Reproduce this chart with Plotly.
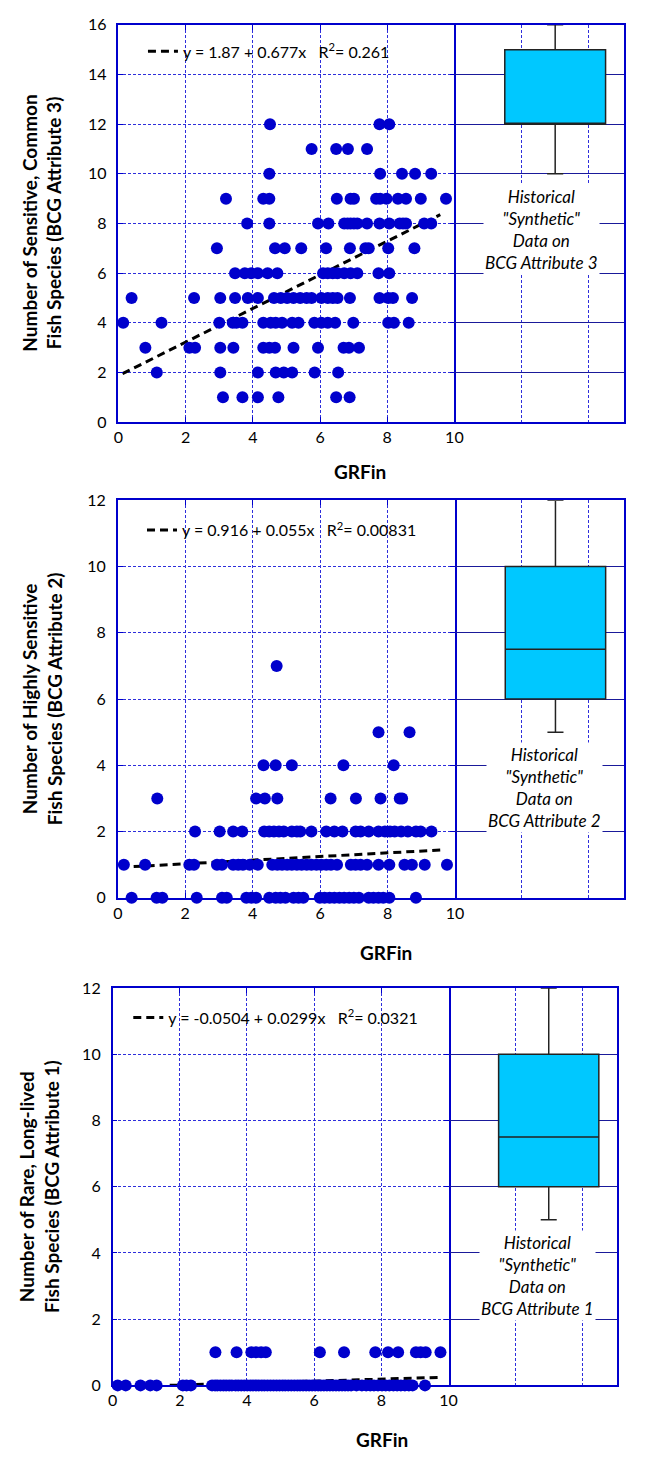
import plotly.graph_objects as go

W, H = 649, 1461

# ---------------- data ----------------
att3_rows = [
    (12, [4.51, 7.77, 8.06]),
    (11, [5.75, 6.48, 6.83, 7.40]),
    (10, [4.49, 7.79, 8.44, 8.83, 9.31]),
    (9, [3.20, 4.31, 4.49, 6.50, 6.91, 7.01, 7.67, 7.79, 7.98, 8.32, 8.56, 9.00, 9.75]),
    (8, [3.83, 4.49, 5.94, 6.25, 6.72, 6.82, 6.91, 7.01, 7.11, 7.40, 7.77, 8.06, 8.37, 8.47, 8.56, 9.10, 9.31]),
    (7, [2.93, 4.66, 4.95, 5.44, 6.18, 6.89, 7.35, 7.45, 8.03, 8.81]),
    (6, [3.47, 3.76, 3.95, 4.15, 4.44, 4.73, 6.09, 6.23, 6.38, 6.52, 6.72, 6.91, 7.11, 7.74, 8.06]),
    (5, [0.39, 2.25, 3.03, 3.47, 3.85, 4.15, 4.63, 4.83, 5.02, 5.21, 5.41, 5.60, 5.75,
         6.04, 6.23, 6.38, 6.52, 6.89, 7.77, 8.03, 8.17, 8.74]),
    (4, [0.14, 1.28, 3.00, 3.40, 3.51, 3.69, 4.31, 4.53, 4.68, 4.87, 5.17, 5.36, 5.83,
         6.04, 6.23, 6.45, 6.99, 8.03, 8.20, 8.64]),
    (3, [0.80, 2.11, 2.28, 3.03, 3.42, 4.31, 4.49, 4.66, 5.21, 5.94, 6.70, 6.86, 7.16]),
    (2, [1.14, 3.03, 4.15, 4.68, 4.92, 5.17, 5.84, 6.54]),
    (1, [3.11, 3.69, 4.15, 4.76, 6.48, 6.88]),
]

att2_rows = [
    (7, [4.71]),
    (5, [7.73, 8.65]),
    (4, [4.32, 4.68, 5.16, 6.69, 8.18]),
    (3, [1.17, 4.10, 4.36, 4.73, 6.31, 7.06, 7.79, 8.36, 8.43]),
    (2, [2.29, 3.02, 3.42, 3.69, 4.34, 4.49, 4.63, 4.78, 4.92, 5.16, 5.31, 5.41, 5.74,
         6.18, 6.42, 6.66, 7.05, 7.20, 7.44, 7.73, 7.92, 8.07, 8.21, 8.40, 8.60, 8.84, 8.98, 9.30]),
    (1, [0.18, 0.81, 2.12, 2.26, 2.94, 3.09, 3.42, 3.57, 3.71, 3.91, 4.15, 4.58, 4.73, 4.87,
         5.02, 5.16, 5.31, 5.45, 5.60, 5.74, 5.89, 6.03, 6.18, 6.32, 6.50, 6.91, 7.05, 7.20,
         7.39, 7.73, 8.05, 8.50, 8.72, 9.10, 9.76]),
    (0, [0.41, 1.15, 1.32, 2.34, 3.09, 3.23, 3.81, 3.96, 4.10, 4.49, 4.68, 4.82, 4.97, 5.21,
         5.36, 5.50, 5.99, 6.13, 6.28, 6.42, 6.57, 6.71, 6.86, 7.00, 7.15, 7.44, 7.58, 7.73,
         7.87, 8.05, 8.84]),
]

att1_rows = [
    (1, [3.06, 3.69, 4.13, 4.27, 4.42, 4.56, 6.17, 6.89, 7.82, 8.20, 8.50, 9.03, 9.17, 9.32, 9.76]),
    (0, [0.15, 0.39, 0.83, 1.12, 1.31, 2.09, 2.20, 2.33, 2.96, 3.05, 3.12, 3.21, 3.30, 3.38,
         3.47, 3.55, 3.66, 3.74, 3.83, 3.92, 4.01, 4.10, 4.18, 4.27, 4.35, 4.44, 4.52, 4.61,
         4.70, 4.79, 4.88, 4.97, 5.06, 5.14, 5.23, 5.32, 5.41, 5.50, 5.58, 5.67, 5.76, 5.85,
         5.94, 6.03, 6.12, 6.20, 6.29, 6.38, 6.47, 6.56, 6.65, 6.74, 6.83, 6.92, 7.01, 7.10,
         7.26, 7.42, 7.55, 7.67, 7.78, 7.90, 8.02, 8.13, 8.24, 8.36, 8.47, 8.58, 8.70, 8.82,
         8.93, 9.30]),
]

# fitted lines (as printed on the chart)
fit_intercept = [1.87, 0.916, -0.0504]
fit_slope = [0.677, 0.055, 0.0299]
fit_label = ["y = 1.87 + 0.677x   R<sup>2</sup>= 0.261",
             "y = 0.916 + 0.055x   R<sup>2</sup>= 0.00831",
             "y = -0.0504 + 0.0299x   R<sup>2</sup>= 0.0321"]
fit_x_start = [0.12, 0.47, 1.70]
fit_x_end = [9.58, 9.60, 9.76]

# historical "synthetic" box summaries
box_low = [10, 5, 5]
box_q1 = [12, 6, 6]
box_median = [12, 7.5, 7.5]
box_q3 = [15, 10, 10]
box_high = [16, 12, 12]
box_label = ["BCG Attribute 3", "BCG Attribute 2", "BCG Attribute 1"]

y_titles = ["Number of Sensitive, Common<br>Fish Species (BCG Attribute 3)",
            "Number of Highly Sensitive<br>Fish Species (BCG Attribute 2)",
            "Number of Rare, Long-lived<br>Fish Species (BCG Attribute 1)"]
y_max = [16, 12, 12]
x_ticks = [0, 2, 4, 6, 8, 10]

# ---------------- layout geometry (pixels) ----------------
panels = [
    dict(x0=116.0, x10=459.3, xr=632.7, ytop=15.0, ybot=417.6,
         leg=(141, 42), gr=(363, 468), note=(548, 222), ytl=38),
    dict(x0=115.3, x10=460.0, xr=632.7, ytop=496.7, ybot=899.5,
         leg=(140, 527), gr=(389, 955), note=(551, 788), ytl=38),
    dict(x0=110.0, x10=453.3, xr=625.7, ytop=991.0, ybot=1393.5,
         leg=(126, 1021), gr=(385, 1448), note=(544, 1282), ytl=35),
]

def px(x):
    return x / W

def py(y):
    return 1 - y / H

BLUE = "#0000CC"
GRID = "#2E2EDB"
FONT = "Lato"

fig = go.Figure()
datasets = [att3_rows, att2_rows, att1_rows]

layout = dict(
    width=W, height=H, autosize=False,
    margin=dict(l=0, r=0, t=0, b=0),
    paper_bgcolor="white", plot_bgcolor="white",
    font=dict(family=FONT, size=16, color="black"),
    showlegend=True,
)
annotations = []

for i, (rows, p) in enumerate(zip(datasets, panels)):
    xs_name = "x" if i == 0 else f"x{2*i+1}"
    ys_name = "y" if i == 0 else f"y{2*i+1}"
    xb_name = f"x{2*i+2}"
    yb_name = f"y{2*i+2}"
    leg_name = "legend" if i == 0 else f"legend{i+1}"

    gx, gy = [], []
    for cnt, vals in rows:
        gx.extend(vals)
        gy.extend([cnt] * len(vals))

    # regression line
    lx = [fit_x_start[i], fit_x_end[i]]
    ly = [fit_intercept[i] + fit_slope[i] * v for v in lx]
    fig.add_trace(go.Scatter(
        x=lx, y=ly, mode="lines", name=fit_label[i],
        line=dict(color="black", width=3, dash="8px,5px"),
        xaxis=xs_name, yaxis=ys_name, legend=leg_name, hoverinfo="skip"))
    # points
    fig.add_trace(go.Scatter(
        x=gx, y=gy, mode="markers", showlegend=False,
        marker=dict(color=BLUE, size=12, line=dict(width=0)),
        cliponaxis=False, xaxis=xs_name, yaxis=ys_name))
    # box
    fig.add_trace(go.Box(
        x=[13], q1=[box_q1[i]], median=[box_median[i]], q3=[box_q3[i]],
        lowerfence=[box_low[i]], upperfence=[box_high[i]],
        width=3.0, whiskerwidth=0.16, boxpoints=False,
        fillcolor="#00C8FF", line=dict(color="#222222", width=1.5),
        showlegend=False, xaxis=xb_name, yaxis=yb_name, hoverinfo="skip"))

    dom_x_s = [px(p["x0"]), px(p["x10"])]
    dom_x_b = [px(p["x10"]), px(p["xr"])]
    dom_y = [py(p["ybot"]), py(p["ytop"])]

    def key(name, prefix):
        return prefix + ("axis" if name in ("x", "y") else "axis" + name[1:])

    layout[key(xs_name, "x")] = dict(
        domain=dom_x_s, range=[0, 10], anchor=ys_name,
        tickmode="array", tickvals=x_ticks, ticks="inside", ticklen=5,
        tickcolor=BLUE, showline=True, linecolor=BLUE, linewidth=1.5,
        mirror="ticks", showgrid=True, gridcolor=GRID, gridwidth=1,
        griddash="3px,2px", zeroline=False,
        tickfont=dict(family=FONT, size=16, color="black"))
    layout[key(ys_name, "y")] = dict(
        domain=dom_y, range=[0, y_max[i]], anchor=xs_name, dtick=2,
        ticks="inside", ticklen=5, tickcolor=BLUE, showline=True,
        linecolor=BLUE, linewidth=1.5, mirror="ticks", showgrid=True,
        gridcolor=GRID, gridwidth=1, griddash="3px,2px", zeroline=False,
        ticklabelstandoff=7,
        tickfont=dict(family=FONT, size=16, color="black"))
    layout[key(xb_name, "x")] = dict(
        domain=dom_x_b, range=[10, 15.05], anchor=yb_name,
        tickmode="array", tickvals=[12, 14],
        showticklabels=False, ticks="", showline=True, linecolor=BLUE,
        linewidth=1.5, mirror=True, showgrid=True, gridcolor=GRID,
        gridwidth=1, griddash="3px,2px", zeroline=False)
    layout[key(yb_name, "y")] = dict(
        domain=dom_y, range=[0, y_max[i]], anchor=xb_name, dtick=2,
        side="right", showticklabels=False, ticks="", showline=True,
        linecolor=BLUE, linewidth=1.5, mirror=False, showgrid=True,
        gridcolor="#1A1A9A", gridwidth=1, zeroline=False)

    layout[leg_name] = dict(
        x=px(p["leg"][0]), y=py(p["leg"][1]), xanchor="left", yanchor="middle",
        bgcolor="rgba(0,0,0,0)", borderwidth=0,
        font=dict(family=FONT, size=16, color="black"))

    annotations.append(dict(
        text="<b>GRFin</b>", x=px(p["gr"][0]), y=py(p["gr"][1]),
        xref="paper", yref="paper", xanchor="center", yanchor="middle",
        showarrow=False, font=dict(family=FONT, size=19, color="black")))
    annotations.append(dict(
        text=f"<b>{y_titles[i]}</b>", textangle=-90,
        x=px(p["ytl"]), y=py((p["ytop"] + p["ybot"]) / 2),
        xref="paper", yref="paper", xanchor="center", yanchor="middle",
        showarrow=False, font=dict(family=FONT, size=19, color="black")))
    annotations.append(dict(
        text=f"<i>Historical<br>\"Synthetic\"<br>Data on<br>{box_label[i]}</i>",
        x=px(p["note"][0]), y=py(p["note"][1]),
        xref="paper", yref="paper", xanchor="center", yanchor="middle",
        showarrow=False, bgcolor="white",
        font=dict(family=FONT, size=17, color="black")))

layout["annotations"] = annotations
fig.update_layout(**layout)
fig.write_html("out.html")
